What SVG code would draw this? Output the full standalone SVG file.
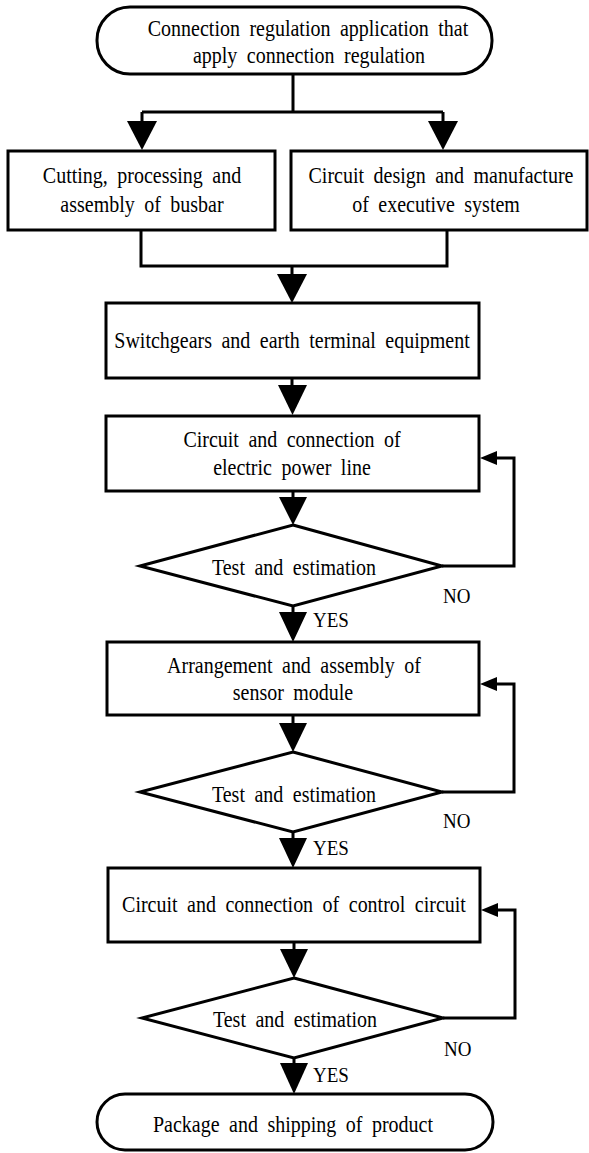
<svg xmlns="http://www.w3.org/2000/svg" width="589" height="1153" viewBox="0 0 589 1153">
<style>
.s{fill:#fff;stroke:#000;stroke-width:3}
.t{font-family:"Liberation Serif","Times New Roman",serif;font-size:20px;word-spacing:4.5px;text-anchor:middle;fill:#000;transform-box:fill-box;transform-origin:50% 70%;transform:scaleY(1.12)}
.l{font-family:"Liberation Serif","Times New Roman",serif;font-size:19px;fill:#000;transform-box:fill-box;transform-origin:50% 70%;transform:scaleY(1.1)}
.c{fill:none;stroke:#000;stroke-width:3}
.a{fill:#000;stroke:none}
</style>
<rect width="589" height="1153" fill="#fff"/>
<g id="connectors">
<path class="c" d="M293,74V112M142,112H443M142,112V122M443,112V122"/>
<polygon class="a" points="127,121 157,121 142,150"/>
<polygon class="a" points="428,121 458,121 443,150"/>
<path class="c" d="M141,230V266H447V230M292,266V275"/>
<polygon class="a" points="277,274 307,274 292,303"/>
<path class="c" d="M292,378V386"/>
<polygon class="a" points="278,385 307,385 292.5,415"/>
<path class="c" d="M293,491V498"/>
<polygon class="a" points="279,497 307,497 293,525"/>
<path class="c" d="M293,606V613"/>
<polygon class="a" points="279,612 307,612 293,642"/>
<path class="c" d="M442,566H514V458H496"/>
<polygon class="a" points="497,451 497,465 480,458"/>
<path class="c" d="M293,715V724"/>
<polygon class="a" points="279,723 307,723 293,752"/>
<path class="c" d="M293,832V839"/>
<polygon class="a" points="279,838 307,838 293,868"/>
<path class="c" d="M442,792H514V684H496"/>
<polygon class="a" points="497,677 497,691 480,684"/>
<path class="c" d="M294,942V950"/>
<polygon class="a" points="280,949 308,949 294,978"/>
<path class="c" d="M294,1058V1064"/>
<polygon class="a" points="280,1063 308,1063 294,1094"/>
<path class="c" d="M443,1018H515V910H497"/>
<polygon class="a" points="498,903 498,917 481,910"/>
<text class="l" x="443" y="603">NO</text>
<text class="l" x="313" y="627">YES</text>
<text class="l" x="443" y="828">NO</text>
<text class="l" x="313" y="855">YES</text>
<text class="l" x="444" y="1056">NO</text>
<text class="l" x="313" y="1082">YES</text>
</g>
<g id="start">
<rect class="s" x="97" y="7" width="395" height="67" rx="33"/>
<text class="t" x="308" y="36">Connection regulation application that</text>
<text class="t" x="309" y="63">apply connection regulation</text>
</g>
<g id="busbar">
<rect class="s" x="8" y="151" width="267" height="79"/>
<text class="t" x="142" y="183">Cutting, processing and</text>
<text class="t" x="142" y="212">assembly of busbar</text>
</g>
<g id="executive">
<rect class="s" x="291" y="151" width="296" height="79"/>
<text class="t" x="441" y="183">Circuit design and manufacture</text>
<text class="t" x="436" y="212">of executive system</text>
</g>
<g id="switchgears">
<rect class="s" x="106" y="303" width="373" height="75"/>
<text class="t" x="292" y="348">Switchgears and earth terminal equipment</text>
</g>
<g id="powerline">
<rect class="s" x="106" y="416" width="373" height="75"/>
<text class="t" x="292" y="447">Circuit and connection of</text>
<text class="t" x="292" y="475">electric power line</text>
</g>
<g id="test1">
<polygon class="s" points="293,525 442,566 293,606 140,566"/>
<text class="t" x="294" y="575">Test and estimation</text>
</g>
<g id="sensor">
<rect class="s" x="107" y="642" width="372" height="73"/>
<text class="t" x="294" y="673">Arrangement and assembly of</text>
<text class="t" x="293" y="700">sensor module</text>
</g>
<g id="test2">
<polygon class="s" points="293,752 442,792 293,832 140,792"/>
<text class="t" x="294" y="802">Test and estimation</text>
</g>
<g id="control">
<rect class="s" x="108" y="868" width="372" height="74"/>
<text class="t" x="294" y="912">Circuit and connection of control circuit</text>
</g>
<g id="test3">
<polygon class="s" points="294,978 443,1018 294,1058 142,1018"/>
<text class="t" x="295" y="1027">Test and estimation</text>
</g>
<g id="end">
<rect class="s" x="97" y="1094" width="396" height="56" rx="28"/>
<text class="t" x="293" y="1132">Package and shipping of product</text>
</g>
</svg>
